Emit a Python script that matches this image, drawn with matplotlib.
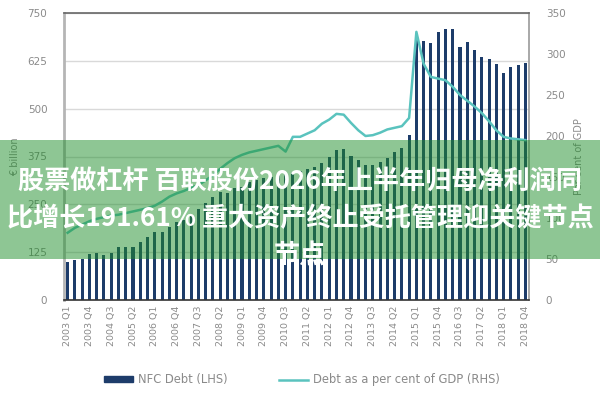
import matplotlib
matplotlib.use("Agg")
import matplotlib.pyplot as plt
import numpy as np
from matplotlib.patches import Rectangle
from matplotlib.lines import Line2D
from matplotlib.patches import Patch

plt.rcParams['font.family'] = ['DejaVu Sans']

quarters = [f"{y} Q{q}" for y in range(2003, 2019) for q in range(1, 5)]

nfc_debt = [100, 104, 106, 120, 122, 117, 124, 139, 139, 139, 152, 165, 178, 178, 192, 205,
            209, 222, 237, 253, 270, 283, 279, 292, 296, 309, 314, 318, 322, 326, 330, 335,
            338, 342, 348, 357, 375, 392, 394, 376, 366, 353, 353, 361, 370, 388, 396, 430,
            680, 677, 672, 701, 707, 707, 662, 675, 653, 636, 629, 616, 594, 608, 614, 620]

debt_gdp = [82, 88, 92, 96, 99, 101, 103, 104, 106, 108, 110, 112, 115, 120, 126, 130,
            133, 137, 140, 146, 152, 160, 167, 173, 177, 180, 182, 184, 186, 188, 181, 199,
            199, 203, 207, 215, 220, 227, 226, 216, 207, 200, 201, 204, 208, 210, 212, 222,
            327, 288, 272, 270, 268, 260, 250, 243, 236, 228, 218, 207, 199, 197, 196, 195]

tick_labels = ["2003 Q1", "2003 Q4", "2004 Q3", "2005 Q2", "2006 Q1", "2006 Q4", "2007 Q3",
               "2008 Q2", "2009 Q1", "2009 Q4", "2010 Q3", "2011 Q2", "2012 Q1", "2012 Q4",
               "2013 Q3", "2014 Q2", "2015 Q1", "2015 Q4", "2016 Q3", "2017 Q2", "2018 Q1",
               "2018 Q4"]

left_ticks = [0, 125, 250, 375, 500, 625, 750]
right_ticks = [0, 50, 100, 150, 200, 250, 300, 350]

title_lines = ["股票做杠杆 百联股份2026年上半年归母净利润同",
               "比增长191.61% 重大资产终止受托管理迎关键节点",
               "节点"]

navy = "#1d3c6a"
teal = "#5ac3be"
grey = "#8a8a8a"

fig = plt.figure(figsize=(6, 4), dpi=100)
ax = fig.add_axes([64/600, 0.25, (529-64)/600, (300-13)/400])

x = np.arange(len(quarters))
ax.bar(x, nfc_debt, width=0.42, color=navy, zorder=2)
ax.set_xlim(-0.5, len(quarters) - 0.5)
ax.set_ylim(0, 750)
ax.set_yticks(left_ticks)
ax.set_yticklabels([str(v) for v in left_ticks])
ax.yaxis.grid(True, color="#d9d9d9", linewidth=1.0, zorder=0)
ax.set_axisbelow(True)

tick_idx = [quarters.index(t) for t in tick_labels]
ax.set_xticks(tick_idx)
ax.set_xticklabels(tick_labels, rotation=90, fontsize=6.8, color=grey)
ax.tick_params(axis='x', length=0, pad=4)
ax.tick_params(axis='y', length=0, pad=12, labelsize=7.5, labelcolor=grey)

ax.spines['left'].set_color("#b5b5b5")
ax.spines['left'].set_linewidth(2.0)
ax.spines['top'].set_color("#666666")
ax.spines['top'].set_linewidth(1.2)
ax.spines['right'].set_color("#9a9a9a")
ax.spines['right'].set_linewidth(1.2)
ax.spines['bottom'].set_color("#333333")
ax.spines['bottom'].set_linewidth(1.2)
ax.set_ylabel("€ billion", fontsize=7, color=grey, labelpad=5)

ax2 = ax.twinx()
ax2.plot(x, debt_gdp, color=teal, linewidth=1.8, zorder=3)
ax2.set_ylim(0, 350)
ax2.set_yticks(right_ticks)
ax2.set_yticklabels([str(v) for v in right_ticks])
ax2.tick_params(axis='y', length=0, pad=12, labelsize=7.5, labelcolor=grey)
for s in ax2.spines.values():
    s.set_visible(False)
ax2.set_ylabel("Per cent of GDP", fontsize=7, color=grey, rotation=90, labelpad=6)

handles = [Patch(facecolor=navy, edgecolor=navy),
           Line2D([0], [0], color=teal, linewidth=1.8)]
leg = fig.legend(handles, ["NFC Debt (LHS)", "Debt as a per cent of GDP (RHS)"],
                 loc="center", bbox_to_anchor=(0.503, 1 - 380/400), ncol=2, frameon=False,
                 fontsize=8.3, handlelength=2.5, handleheight=0.45, handletextpad=0.4,
                 columnspacing=4.5)
for t in leg.get_texts():
    t.set_color(grey)

banner = Rectangle((0, 1 - 259/400), 1, (259-140)/400, transform=fig.transFigure,
                   facecolor="#1f8f2a", alpha=0.5, edgecolor="none", zorder=5)
fig.patches.append(banner)

ys = [182, 219, 256]
for line, yy in zip(title_lines, ys):
    fig.text(0.5, 1 - yy/400, line, ha="center", va="center", color="white",
             fontsize=18.8, fontweight="bold",
             family=["Noto Sans CJK SC", "DejaVu Sans"], zorder=6)

fig.savefig("out.png", dpi=100)
